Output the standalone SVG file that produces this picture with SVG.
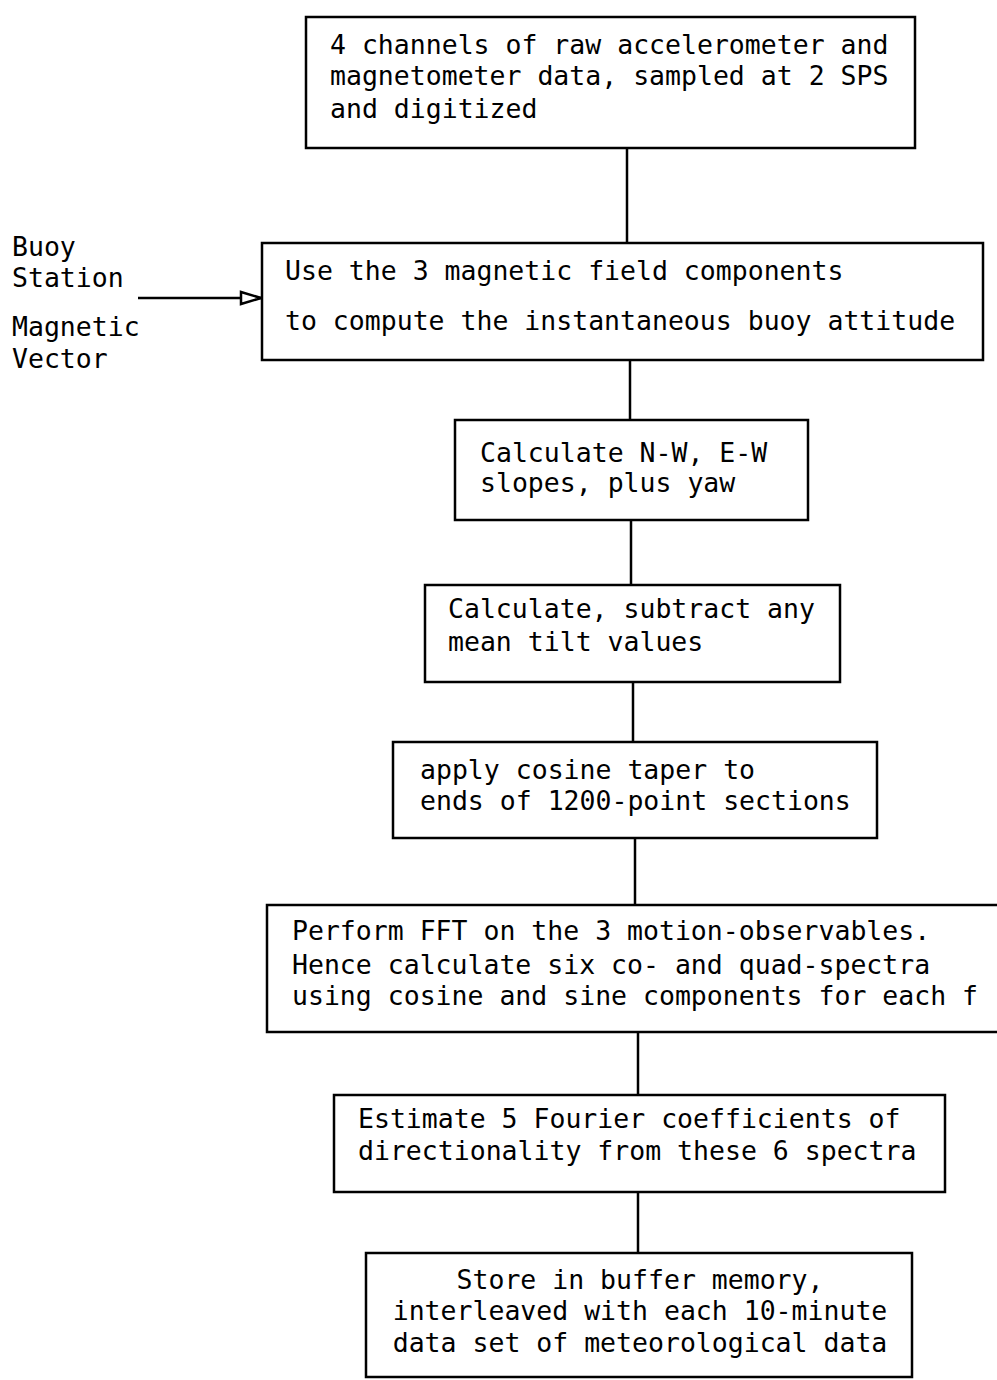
<svg xmlns="http://www.w3.org/2000/svg" width="997" height="1380" viewBox="0 0 997 1380">
<style>
.box{fill:none;stroke:#000;stroke-width:2.5}
.ln{stroke:#000;stroke-width:2.5;fill:none}
text{font-family:"DejaVu Sans Mono","Liberation Mono",monospace;font-size:26.5px;fill:#000}
.c{text-anchor:middle}
</style>
<defs>
<marker id="tri" markerWidth="24" markerHeight="16" refX="22" refY="8" orient="auto" markerUnits="userSpaceOnUse">
<path d="M2,2 L22,8 L2,14 Z" fill="#fff" stroke="#000" stroke-width="2.5"/>
</marker>
</defs>
<rect width="997" height="1380" fill="#fff"/>
<g id="connectors">
<line class="ln" x1="627" y1="148" x2="627" y2="243"/>
<line class="ln" x1="630" y1="360" x2="630" y2="420"/>
<line class="ln" x1="631" y1="520" x2="631" y2="585"/>
<line class="ln" x1="633" y1="682" x2="633" y2="742"/>
<line class="ln" x1="635" y1="838" x2="635" y2="905"/>
<line class="ln" x1="638" y1="1032" x2="638" y2="1095"/>
<line class="ln" x1="638" y1="1192" x2="638" y2="1253"/>
<line class="ln" x1="138" y1="298" x2="261" y2="298" marker-end="url(#tri)"/>
</g>
<g id="input">
<text x="12" y="256">Buoy</text>
<text x="12" y="287">Station</text>
<text x="12" y="336">Magnetic</text>
<text x="12" y="368">Vector</text>
</g>
<g id="n1">
<rect class="box" x="306" y="17" width="609" height="131"/>
<text x="330" y="54">4 channels of raw accelerometer and</text>
<text x="330" y="85">magnetometer data, sampled at 2 SPS</text>
<text x="330" y="118">and digitized</text>
</g>
<g id="n2">
<rect class="box" x="262" y="243" width="721" height="117"/>
<text x="285" y="280">Use the 3 magnetic field components</text>
<text x="285" y="330">to compute the instantaneous buoy attitude</text>
</g>
<g id="n3">
<rect class="box" x="455" y="420" width="353" height="100"/>
<text x="480" y="462">Calculate N-W, E-W</text>
<text x="480" y="492">slopes, plus yaw</text>
</g>
<g id="n4">
<rect class="box" x="425" y="585" width="415" height="97"/>
<text x="448" y="618">Calculate, subtract any</text>
<text x="448" y="651">mean tilt values</text>
</g>
<g id="n5">
<rect class="box" x="393" y="742" width="484" height="96"/>
<text x="420" y="779">apply cosine taper to</text>
<text x="420" y="810">ends of 1200-point sections</text>
</g>
<g id="n6">
<rect class="box" x="267" y="905" width="760" height="127"/>
<text x="292" y="940">Perform FFT on the 3 motion-observables.</text>
<text x="292" y="974">Hence calculate six co- and quad-spectra</text>
<text x="292" y="1005">using cosine and sine components for each f</text>
</g>
<g id="n7">
<rect class="box" x="334" y="1095" width="611" height="97"/>
<text x="358" y="1128">Estimate 5 Fourier coefficients of</text>
<text x="358" y="1160">directionality from these 6 spectra</text>
</g>
<g id="n8">
<rect class="box" x="366" y="1253" width="546" height="124"/>
<text class="c" x="640" y="1289">Store in buffer memory,</text>
<text class="c" x="640" y="1320">interleaved with each 10-minute</text>
<text class="c" x="640" y="1352">data set of meteorological data</text>
</g>
</svg>
